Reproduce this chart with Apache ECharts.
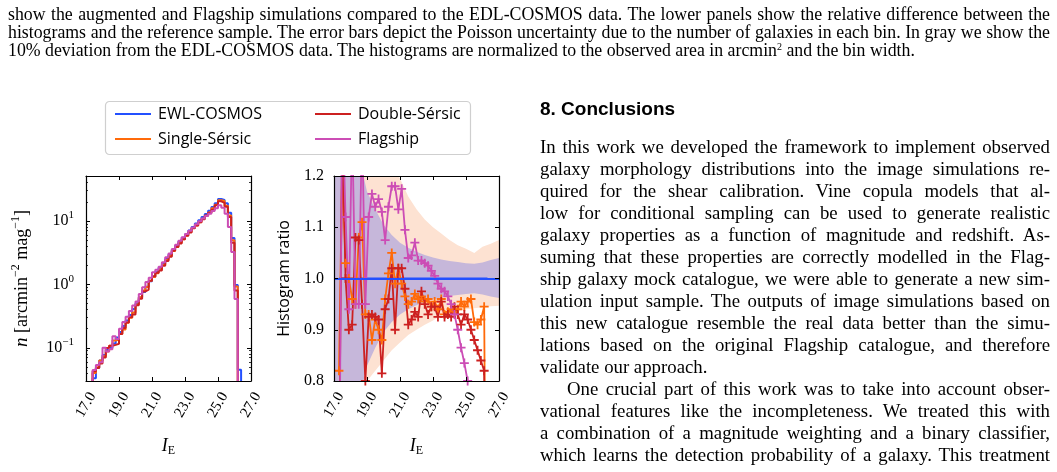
<!DOCTYPE html>
<html>
<head>
<meta charset="utf-8">
<script src="https://cdn.jsdelivr.net/npm/echarts@6/dist/echarts.min.js"></script>
<style>
  html, body { margin: 0; padding: 0; background: #fff; }
  #page { position: relative; width: 1057px; height: 472px; overflow: hidden; }
  #chart { position: absolute; left: 0; top: 0; width: 1057px; height: 472px; }
  .ln { position: absolute; white-space: nowrap; color: #000; font-family: 'Liberation Serif', 'Times New Roman', serif; text-align: justify; text-align-last: justify; }
  .cap { left: 8px; width: 1042px; font-size: 17.8px; line-height: 18px; word-spacing: -1.5px; }
  .txt { left: 540px; width: 510px; font-size: 18.8px; line-height: 22px; }
  .left { text-align: left; text-align-last: left; word-spacing: 0; }
  sup { font-size: 10px; line-height: 0; vertical-align: 6px; }
  #title { position: absolute; left: 540px; top: 98px; font: bold 19px 'Liberation Sans', Arial, sans-serif; line-height: 22px; }
</style>
</head>
<body>
<div id="page">
  <div id="chart"></div>

  <div class="ln cap" style="top:5px">show the augmented and Flagship simulations compared to the EDL-COSMOS data. The lower panels show the relative difference between the</div>
  <div class="ln cap" style="top:23px">histograms and the reference sample. The error bars depict the Poisson uncertainty due to the number of galaxies in each bin. In gray we show the</div>
  <div class="ln cap left" style="top:41px">10% deviation from the EDL-COSMOS data. The histograms are normalized to the observed area in arcmin<sup>2</sup> and the bin width.</div>

  <div id="title">8. Conclusions</div>
  <div class="ln txt" style="top:136px">In this work we developed the framework to implement observed</div>
  <div class="ln txt" style="top:158px">galaxy morphology distributions into the image simulations re-</div>
  <div class="ln txt" style="top:180px">quired for the shear calibration. Vine copula models that al-</div>
  <div class="ln txt" style="top:202px">low for conditional sampling can be used to generate realistic</div>
  <div class="ln txt" style="top:224px">galaxy properties as a function of magnitude and redshift. As-</div>
  <div class="ln txt" style="top:246px">suming that these properties are correctly modelled in the Flag-</div>
  <div class="ln txt" style="top:268px">ship galaxy mock catalogue, we were able to generate a new sim-</div>
  <div class="ln txt" style="top:290px">ulation input sample. The outputs of image simulations based on</div>
  <div class="ln txt" style="top:312px">this new catalogue resemble the real data better than the simu-</div>
  <div class="ln txt" style="top:334px">lations based on the original Flagship catalogue, and therefore</div>
  <div class="ln txt left" style="top:356px">validate our approach.</div>
  <div class="ln txt" style="top:378px; left:567px; width:483px">One crucial part of this work was to take into account obser-</div>
  <div class="ln txt" style="top:400px">vational features like the incompleteness. We treated this with</div>
  <div class="ln txt" style="top:422px">a combination of a magnitude weighting and a binary classifier,</div>
  <div class="ln txt" style="top:444px">which learns the detection probability of a galaxy. This treatment</div>
</div>

<script>
// bin centres of the I_E histograms (bin width 0.2 mag)
var binCenters = [17.3, 17.5, 17.7, 17.9, 18.1, 18.3, 18.5, 18.7, 18.9, 19.1,
                  19.3, 19.5, 19.7, 19.9, 20.1, 20.3, 20.5, 20.7, 20.9, 21.1,
                  21.3, 21.5, 21.7, 21.9, 22.1, 22.3, 22.5, 22.7, 22.9, 23.1,
                  23.3, 23.5, 23.7, 23.9, 24.1, 24.3, 24.5, 24.7, 24.9, 25.1,
                  25.3, 25.5, 25.7, 25.9, 26.1, 26.3];

// EWL-COSMOS number density, arcmin^-2 mag^-1
var ewlHist = [0.02, 0.033, 0.048, 0.063, 0.077, 0.092, 0.1, 0.117, 0.145, 0.178,
               0.22, 0.27, 0.33, 0.41, 0.5, 0.62, 0.76, 0.92, 1.12, 1.32,
               1.55, 1.82, 2.14, 2.5, 2.95, 3.47, 4.07, 4.73, 5.43, 6.17,
               7.08, 8.04, 9.12, 10.2, 11.5, 12.9, 14.4, 16.5, 19.0, 22.1,
               21.4, 19.0, 13.4, 5.4, 0.98, 0.045];

// histogram ratio to EWL-COSMOS
var singleRatio = [0.82, 1.22, 1.03, 1.0, 0.96, 0.95, 1.08, 1.11, 0.93, 0.93,
                   0.88, 0.92, 0.9, 0.88, 0.96, 1.01, 1.05, 0.99, 1.02, 0.99,
                   0.965, 0.95, 0.955, 0.97, 0.96, 0.965, 0.955, 0.96, 0.945, 0.955,
                   0.94, 0.96, 0.93, 0.935, 0.94, 0.935, 0.94, 0.955, 0.945, 0.955,
                   0.96, 0.915, 0.91, 0.92, 0.945, 0];
var doubleRatio = [0.6, 1.3, 1.0, 0.9, 0.91, 1.08, 1.075, 0.95, 0.8, 0.925,
                   0.93, 0.925, 0.92, 0.815, 0.94, 0.96, 1.02, 0.9, 1.02, 1.02,
                   0.98, 0.91, 0.92, 0.935, 0.925, 0.975, 0.95, 0.93, 0.945, 0.945,
                   0.925, 0.955, 0.925, 0.93, 0.925, 0.945, 0.93, 0.91, 0.93, 0.92,
                   0.9, 0.88, 0.86, 0.84, 0.82, 0];
var flagshipRatio = [0.5, 1.35, 1.12, 0.94, 1.3, 0.95, 0.95, 1.3, 0.95, 1.12,
                     1.165, 1.14, 1.155, 1.13, 1.075, 1.14, 1.18, 1.18, 1.135, 1.175,
                     1.095, 1.04, 1.045, 1.07, 1.035, 1.035, 1.03, 1.025, 1.015, 1.005,
                     0.99, 0.98, 0.975, 0.965, 0.95, 0.93, 0.9, 0.865, 0.835, 0.8,
                     0.75, 0.68, 0.6, 0.6, 0.6, 0];

// uncertainty bands of the ratio panel
var bandMag = [17.0, 17.5, 18.0, 18.5, 19.0, 19.5, 20.0, 20.5, 21.0, 21.5, 22.0,
               22.5, 23.0, 23.5, 24.0, 24.5, 25.0, 25.5, 26.0, 26.5, 27.0];
var outerLo = [0.3, 0.45, 0.6, 0.72, 0.8, 0.82, 0.84, 0.86, 0.875, 0.89, 0.9,
               0.91, 0.918, 0.928, 0.933, 0.936, 0.94, 0.942, 0.944, 0.946, 0.947];
var outerHi = [1.8, 1.7, 1.55, 1.45, 1.36, 1.3, 1.25, 1.22, 1.195, 1.16, 1.135,
               1.115, 1.1, 1.088, 1.075, 1.065, 1.058, 1.05, 1.062, 1.068, 1.075];
var innerLo = [0.3, 0.5, 0.65, 0.76, 0.83, 0.865, 0.895, 0.915, 0.93, 0.94, 0.948,
               0.954, 0.959, 0.963, 0.966, 0.968, 0.97, 0.971, 0.969, 0.965, 0.962];
var innerHi = [1.7, 1.5, 1.35, 1.24, 1.17, 1.135, 1.105, 1.085, 1.07, 1.06, 1.052,
               1.046, 1.041, 1.037, 1.034, 1.032, 1.03, 1.029, 1.031, 1.036, 1.04];

var seriesNames = ['EWL-COSMOS', 'Single-Sérsic', 'Double-Sérsic', 'Flagship'];
var logMinorTicks = [0.04, 0.05, 0.06, 0.07, 0.08, 0.09, 0.2, 0.3, 0.4, 0.5, 0.6, 0.7, 0.8, 0.9,
                     2, 3, 4, 5, 6, 7, 8, 9, 20, 30, 40, 50];

var COLORS = ['#2350ff', '#ff6a0a', '#cc2020', '#cc4db5'];
var SERIF = "'Liberation Serif', 'DejaVu Serif', serif";
var SANS = "'Open Sans', 'DejaVu Sans', sans-serif";
var HALF_BIN = 0.1;
var FLOOR = 0.001;
var PLUS = 'path://M4,0H6V4H10V6H6V10H4V6H0V4H4Z';

function simHist(ratio) {
    return ewlHist.map(function(v, i) { return v * ratio[i]; });
}

// outline of a step histogram, dropping to the bottom at both ends
function stepData(values) {
    var last = 0;
    for (var i = 0; i < values.length; i++) {
        if (values[i] > 0) last = i;
    }
    var pts = [[binCenters[0] - HALF_BIN, FLOOR]];
    for (var j = 0; j <= last; j++) {
        pts.push([binCenters[j] - HALF_BIN, values[j] > 0 ? values[j] : FLOOR]);
    }
    pts.push([binCenters[last] + HALF_BIN, values[last]]);
    pts.push([binCenters[last] + HALF_BIN, FLOOR]);
    return pts;
}

function pairs(xs, ys) {
    return xs.map(function(x, i) { return [x, ys[i]]; });
}

function frameAxis(gridIndex, position, extra) {
    var ax = {
        gridIndex: gridIndex,
        position: position,
        z: 5,
        axisLine: { show: true, onZero: false, lineStyle: { color: '#000', width: 1.2 } },
        axisTick: { show: true, inside: true, length: 4, lineStyle: { color: '#000', width: 1 } },
        axisLabel: { show: false },
        splitLine: { show: false }
    };
    return Object.assign(ax, extra);
}

var xLabel = {
    show: true, rotate: 60, align: 'center', verticalAlign: 'middle', margin: 24,
    color: '#000', fontFamily: SERIF, fontSize: 15,
    formatter: function(v) { return v.toFixed(1); }
};
var xName = {
    name: '{i|I}{sub|E}', nameLocation: 'middle', nameGap: 54,
    nameTextStyle: {
        rich: {
            i: { fontFamily: SERIF, fontStyle: 'italic', fontSize: 18, lineHeight: 22, color: '#000' },
            sub: { fontFamily: SERIF, fontSize: 12, lineHeight: 13, verticalAlign: 'bottom', color: '#000' }
        }
    }
};

function xAxisPair(gridIndex) {
    var common = { type: 'value', min: 17, max: 27, interval: 2 };
    return [
        frameAxis(gridIndex, 'bottom', Object.assign({}, common, xName, { axisLabel: xLabel })),
        frameAxis(gridIndex, 'top', Object.assign({}, common))
    ];
}

var logCommon = { type: 'log', logBase: 10, min: 0.03, max: 51 };
var logLabel = {
    show: true, margin: 12, color: '#000',
    formatter: function(v) {
        var e = Math.log10(v);
        var r = Math.round(e);
        if (Math.abs(e - r) > 1e-6) return '';
        return '{b|10}{s|' + (r < 0 ? '\u2212' + (-r) : r) + '}';
    },
    rich: {
        b: { fontFamily: SERIF, fontSize: 16, lineHeight: 22, color: '#000' },
        s: { fontFamily: SERIF, fontSize: 11, lineHeight: 12, verticalAlign: 'top', color: '#000' }
    }
};
var minorTick = { show: true, inside: true, length: 2, customValues: logMinorTicks, lineStyle: { color: '#000', width: 0.8 } };

var yAxes = [
    frameAxis(0, 'left', Object.assign({}, logCommon, {
        axisLabel: logLabel,
        name: '{i|n} [arcmin{s|\u22122} mag{s|\u22121}]', nameLocation: 'middle', nameGap: 52,
        nameTextStyle: {
            fontFamily: SERIF, fontSize: 18, lineHeight: 24, color: '#000',
            rich: {
                i: { fontFamily: SERIF, fontStyle: 'italic', fontSize: 19, lineHeight: 24, color: '#000' },
                s: { fontFamily: SERIF, fontSize: 12, lineHeight: 13, verticalAlign: 'top', color: '#000' }
            }
        }
    })),
    frameAxis(0, 'left', Object.assign({}, logCommon, { axisLine: { show: false }, axisTick: minorTick })),
    frameAxis(0, 'right', Object.assign({}, logCommon)),
    frameAxis(0, 'right', Object.assign({}, logCommon, { axisLine: { show: false }, axisTick: minorTick })),
    frameAxis(1, 'left', {
        type: 'value', min: 0.8, max: 1.2, interval: 0.1,
        axisLabel: {
            show: true, margin: 10, color: '#000', fontFamily: SERIF, fontSize: 16,
            formatter: function(v) { return v.toFixed(1); }
        },
        name: 'Histogram ratio', nameLocation: 'middle', nameGap: 42,
        nameTextStyle: { fontFamily: SANS, fontSize: 16, color: '#000' }
    }),
    frameAxis(1, 'right', { type: 'value', min: 0.8, max: 1.2, interval: 0.1 })
];

var series = [];

// upper panel: step histograms on a log axis
var hists = [ewlHist, simHist(singleRatio), simHist(doubleRatio), simHist(flagshipRatio)];
hists.forEach(function(h, k) {
    series.push({
        name: seriesNames[k], type: 'line', xAxisIndex: 0, yAxisIndex: 0,
        step: 'end', symbol: 'none', clip: true,
        lineStyle: { color: COLORS[k], width: 2 },
        itemStyle: { color: COLORS[k] },
        data: stepData(h)
    });
});

// lower panel: shaded bands, drawn as one polygon each
function band(lo, hi, color) {
    series.push({
        type: 'custom', xAxisIndex: 2, yAxisIndex: 4, silent: true, clip: true,
        encode: { x: 0, y: [1, 2] },
        data: bandMag.map(function(m, i) { return [m, lo[i], hi[i]]; }),
        renderItem: function(params, api) {
            if (params.dataIndex !== 0) return null;
            var pts = [];
            for (var i = 0; i < bandMag.length; i++) pts.push(api.coord([bandMag[i], hi[i]]));
            for (var j = bandMag.length - 1; j >= 0; j--) pts.push(api.coord([bandMag[j], lo[j]]));
            return { type: 'polygon', shape: { points: pts }, style: { fill: color } };
        }
    });
}
band(outerLo, outerHi, '#fde2d2');
band(innerLo, innerHi, '#c6b7da');

series.push({
    name: seriesNames[0], type: 'line', xAxisIndex: 2, yAxisIndex: 4, symbol: 'none',
    lineStyle: { color: COLORS[0], width: 2 }, itemStyle: { color: COLORS[0] },
    data: pairs(binCenters, ewlHist.map(function(v) { return v / v; })),
    markLine: {
        silent: true, symbol: 'none', label: { show: false },
        lineStyle: { color: COLORS[0], width: 2, type: 'solid' },
        data: [{ yAxis: 1 }]
    }
});

[singleRatio, doubleRatio, flagshipRatio].forEach(function(r, k) {
    series.push({
        name: seriesNames[k + 1], type: 'line', xAxisIndex: 2, yAxisIndex: 4, clip: true,
        symbol: PLUS, symbolSize: 9, showAllSymbol: true,
        lineStyle: { color: COLORS[k + 1], width: 1.8 },
        itemStyle: { color: COLORS[k + 1] },
        data: pairs(binCenters, r)
    });
});

var legendCommon = {
    orient: 'vertical', icon: 'rect', itemWidth: 36, itemHeight: 2, itemGap: 5,
    selectedMode: false,
    textStyle: { fontFamily: SANS, fontSize: 16, lineHeight: 20, color: '#000', padding: [0, 0, 0, 2] }
};

var option = {
    animation: false,
    grid: [
        { left: 86, top: 176, width: 165, height: 205 },
        { left: 334, top: 176, width: 165, height: 205 }
    ],
    legend: [
        Object.assign({ left: 110, top: 99, data: [seriesNames[0], seriesNames[1]] }, legendCommon),
        Object.assign({ left: 310, top: 99, data: [seriesNames[2], seriesNames[3]] }, legendCommon)
    ],
    graphic: [{
        type: 'rect', left: 103, top: 99, silent: true,
        shape: { width: 365, height: 53, r: 4 },
        style: { fill: 'none', stroke: '#cfcfcf', lineWidth: 1.2 }
    }],
    xAxis: xAxisPair(0).concat(xAxisPair(1)),
    yAxis: yAxes,
    series: series
};

var chart = echarts.init(document.getElementById('chart'), null, { renderer: 'canvas' });
chart.setOption(option);
</script>
</body>
</html>
